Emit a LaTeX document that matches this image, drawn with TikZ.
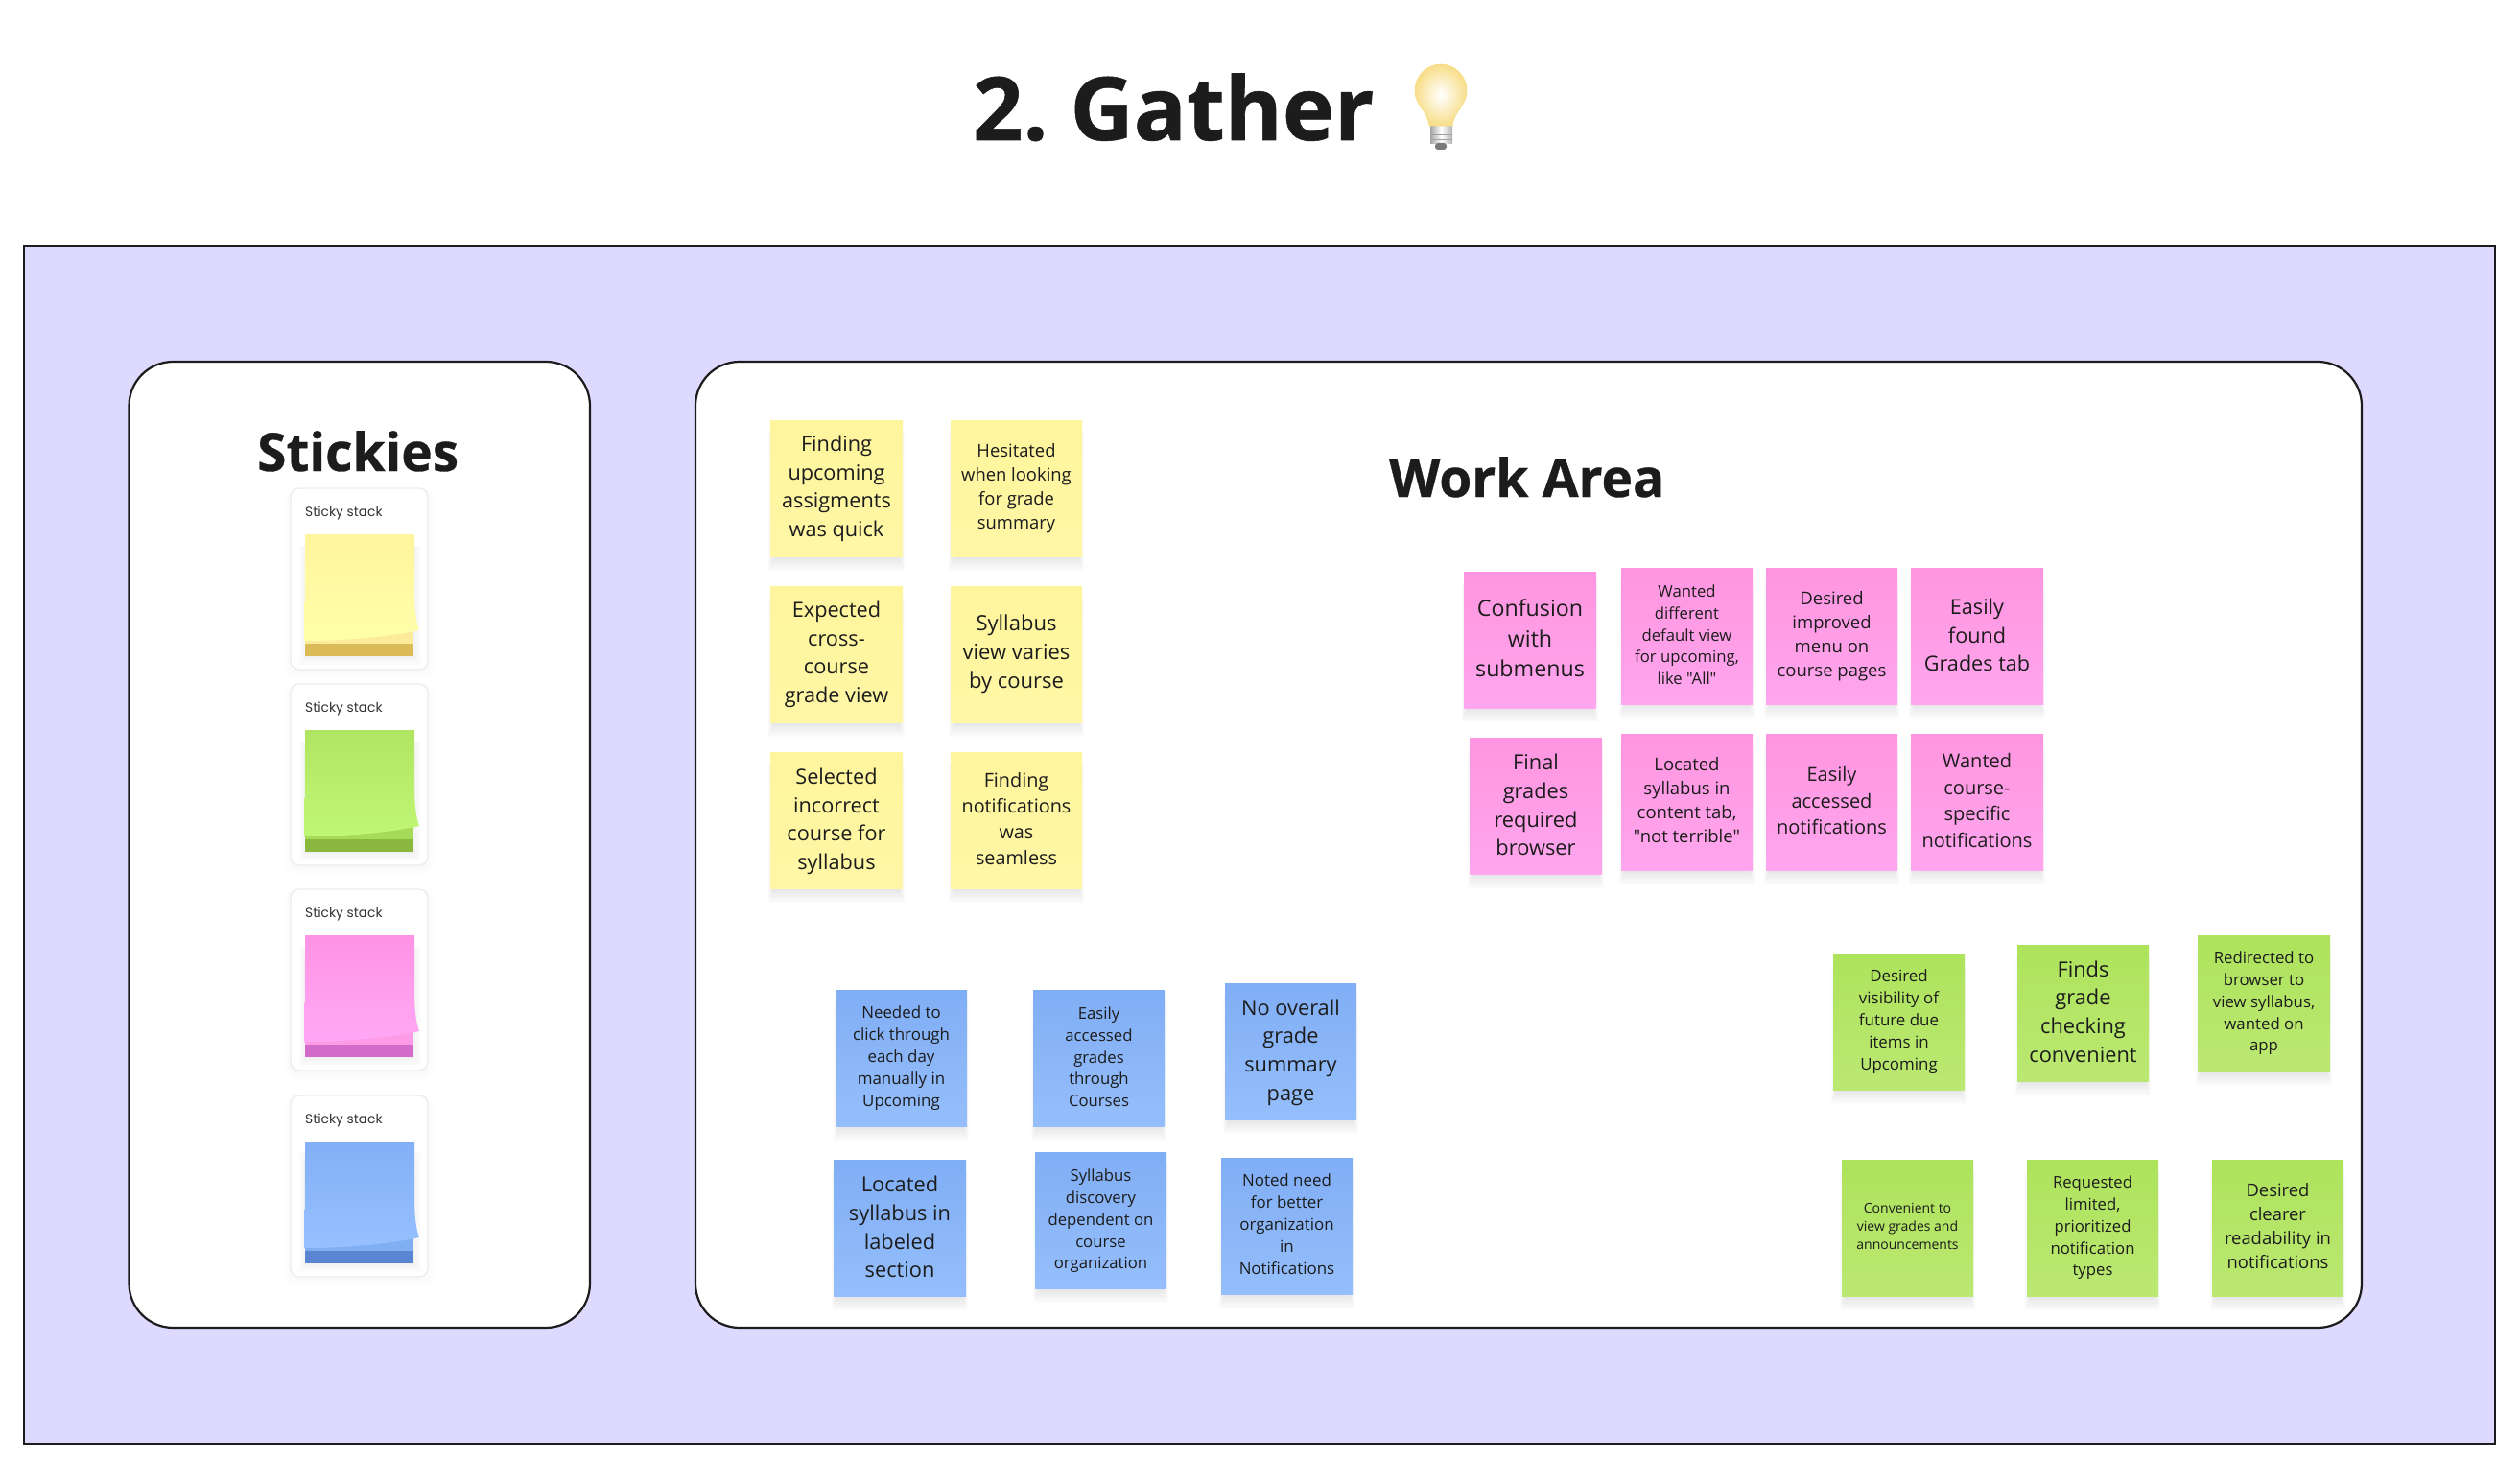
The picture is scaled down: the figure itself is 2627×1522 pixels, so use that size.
\documentclass[tikz,border=0pt]{standalone}
\usepackage{fontspec}
\setmainfont[Ligatures=TeXOff]{Open Sans}
\newfontfamily\stackfont{Poppins}
\newfontfamily\heavyfont[BoldFeatures={FakeBold=0.6}]{Open Sans}
\definecolor{ink}{HTML}{1C1C1C}
\definecolor{framefill}{HTML}{DED9FF}
\definecolor{cardline}{HTML}{EDEDF1}
\definecolor{yTop}{HTML}{FFF59D}\definecolor{yBot}{HTML}{FFF7A6}
\definecolor{gTop}{HTML}{AEE35C}\definecolor{gBot}{HTML}{BBE872}
\definecolor{pTop}{HTML}{FF95E0}\definecolor{pBot}{HTML}{FFA6EE}
\definecolor{bTop}{HTML}{80AEF5}\definecolor{bBot}{HTML}{95BEFB}
\definecolor{ysTop}{HTML}{FFF59C}\definecolor{ysBot}{HTML}{FFFFAA}\definecolor{ysUnd}{HTML}{FBEB9A}\definecolor{ysBand}{HTML}{DBBB55}
\definecolor{gsTop}{HTML}{B0E562}\definecolor{gsBot}{HTML}{C0F775}\definecolor{gsUnd}{HTML}{A6DB5A}\definecolor{gsBand}{HTML}{8AB83F}
\definecolor{psTop}{HTML}{FF93E3}\definecolor{psBot}{HTML}{FFA8F5}\definecolor{psUnd}{HTML}{FD9BE6}\definecolor{psBand}{HTML}{D36BCB}
\definecolor{bsTop}{HTML}{82AFF6}\definecolor{bsBot}{HTML}{96C0FF}\definecolor{bsUnd}{HTML}{80AEF2}\definecolor{bsBand}{HTML}{5A85D2}
\definecolor{glow}{HTML}{F8DE8A}
\tikzset{
  x=1pt,y=-1pt,
  notedy/.store in=\notedy, notedy=0,
  framebox/.style={draw=ink,line width=2.2pt,fill=framefill},
  panelbox/.style={draw=ink,line width=2.2pt,fill=white,rounded corners=46pt},
  cardbox/.style={draw=cardline,line width=1.4pt,fill=white,rounded corners=9pt},
  stickybox/.style={rectangle,inner sep=0pt,align=center,text=ink},
  yellownote/.style={top color=yTop,bottom color=yBot},
  greennote/.style={top color=gTop,bottom color=gBot},
  pinknote/.style={top color=pTop,bottom color=pBot},
  bluenote/.style={top color=bTop,bottom color=bBot},
  headtext/.style={inner sep=0pt,anchor=base west,text=ink,font=\heavyfont\fontsize{55}{60}\selectfont\bfseries},
  stacklabel/.style={inner sep=0pt,anchor=base west,text=ink!90,font=\stackfont\fontsize{13.8}{16}\selectfont},
}
% name, x0, y0, x1, y1, fill style, size, leading, text
\newcommand{\stickynote}[9]{%
  \foreach \s in {0,2,4,6,8,10}{%
    \fill[black,opacity=.016] ({#2-\s/2+3},{#3+12}) rectangle ({#4+\s/2-3},{#5+3+\s*1.2});
  }%
  \begin{scope}[#6]
  \node[stickybox,#6,minimum width={(#4-#2)*1pt},minimum height={(#5-#3)*1pt},
    label={[inner sep=0pt,align=center,text=ink,font=\fontsize{#7}{#8}\selectfont,yshift={-(\notedy)*1pt}]center:{#9}}] (#1) at ({(#2+#4)/2},{(#3+#5)/2}) {};
  \end{scope}
}
% name, card top, card bottom, top colour, bottom colour, underpage, band
\newcommand{\stackcard}[7]{%
  \foreach \s in {0,3,6}{\fill[black,opacity=.006,rounded corners=9pt] ({303-\s},{#2}) rectangle ({446+\s},{#3+3+\s});}%
  \draw[cardbox] (303,#2) rectangle (446,#3);
  \node[stacklabel] (#1) at (318,{#2+29}) {Sticky stack};
  \begin{scope}[yshift={-(#2)*1pt}]
    \foreach \s in {0,2,4,6,8}{\fill[black,opacity=.012] ({320-\s},{60}) rectangle ({431+\s},{176+\s});}
    \fill[#7] (318,162) rectangle (431,175);
    \fill[#6] (318,140) rectangle (431,162);
    \shade[top color=#4,bottom color=#5]
      (318,48) -- (432,48) -- (432,105) .. controls (432,128) and (434,140) .. (437,148)
      .. controls (405,155) and (360,159) .. (317,159)
      .. controls (318,120) and (318,90) .. (318,48) -- cycle;
  \end{scope}
}
\begin{document}
\begin{tikzpicture}
\useasboundingbox (0,0) rectangle (2627,1522);
\fill[white] (0,0) rectangle (2627,1522);

% title
\node[inner sep=0pt,anchor=base west,text=ink,font=\heavyfont\fontsize{91.5}{100}\selectfont\bfseries] (title) at (1014,146) {2.\hspace{23pt}Gather};
% bulb
\shade[left color=gray!70,right color=gray!60,middle color=white] (1491,130) rectangle (1514,150);
\foreach \yy in {136,141,146}{\draw[gray!75,line width=1pt] (1491,\yy) -- (1514,\yy);}
\fill[gray!95!black,rounded corners=3pt] (1496,149) rectangle (1508,156);
\draw[glow,line width=.6pt,inner color=white,outer color=glow]
  (1490,131) .. controls (1488,115) and (1475,110) .. (1475,95)
  .. controls (1475,78) and (1488,67) .. (1502,67)
  .. controls (1516,67) and (1529,78) .. (1529,95)
  .. controls (1529,110) and (1516,115) .. (1514,131) -- cycle;

% frame and panels
\draw[framebox] (25,256) rectangle (2601,1505);
\draw[panelbox] (134.5,377) rectangle (615,1384);
\draw[panelbox] (725,377) rectangle (2462,1384);
\node[headtext] (stickieshead) at (268,491) {Stickies};
\node[headtext] (workhead) at (1448,518) {Work Area};

% stacks
\stackcard{stackA}{509}{698}{ysTop}{ysBot}{ysUnd}{ysBand}
\stackcard{stackB}{713}{902}{gsTop}{gsBot}{gsUnd}{gsBand}
\stackcard{stackC}{927}{1116}{psTop}{psBot}{psUnd}{psBand}
\stackcard{stackD}{1142}{1331}{bsTop}{bsBot}{bsUnd}{bsBand}

% yellow
\stickynote{y1}{803}{438}{941}{580}{yellownote,notedy=0.5}{21.7}{29.5}{Finding\\upcoming\\assigments\\was quick}
\stickynote{y2}{991}{438}{1128}{580}{yellownote}{18.4}{25}{Hesitated\\when looking\\for grade\\summary}
\stickynote{y3}{803}{611}{941}{753}{yellownote,notedy=0.5}{21.7}{29.5}{Expected\\cross-\\course\\grade view}
\stickynote{y4}{991}{611}{1128}{753}{yellownote}{22}{30}{Syllabus\\view varies\\by course}
\stickynote{y5}{803}{784}{941}{926}{yellownote,notedy=1.5}{21.7}{29.5}{Selected\\incorrect\\course for\\syllabus}
\stickynote{y6}{991}{784}{1128}{926}{yellownote,notedy=-1.5}{19.8}{27}{Finding\\notifications\\was\\seamless}

% pink
\stickynote{p1}{1526}{596}{1664}{738}{pinknote,notedy=-1.7}{23.2}{31.5}{Confusion\\with\\submenus}
\stickynote{p2}{1690}{592}{1827}{734}{pinknote,notedy=-1}{16.7}{22.7}{Wanted\\different\\default view\\for upcoming,\\like "All"}
\stickynote{p3}{1841}{592}{1978}{734}{pinknote}{18.5}{25}{Desired\\improved\\menu on\\course pages}
\stickynote{p4}{1992}{592}{2130}{734}{pinknote,notedy=-1}{21.6}{29.3}{Easily\\found\\Grades tab}
\stickynote{p5}{1532}{769}{1670}{911}{pinknote,notedy=-1}{21.8}{29.7}{Final\\grades\\required\\browser}
\stickynote{p6}{1690}{765}{1827}{907}{pinknote,notedy=-1.5}{18.5}{25}{Located\\syllabus in\\content tab,\\"not terrible"}
\stickynote{p7}{1841}{765}{1978}{907}{pinknote,notedy=-1.5}{20}{27.3}{Easily\\accessed\\notifications}
\stickynote{p8}{1992}{765}{2130}{907}{pinknote,notedy=-1.5}{20}{27.5}{Wanted\\course-\\specific\\notifications}

% blue
\stickynote{b1}{871}{1032}{1008}{1174}{bluenote}{16.9}{23}{Needed to\\click through\\each day\\manually in\\Upcoming}
\stickynote{b2}{1077}{1032}{1214}{1174}{bluenote,notedy=-1}{16.7}{22.7}{Easily\\accessed\\grades\\through\\Courses}
\stickynote{b3}{1277}{1025}{1414}{1167}{bluenote,notedy=1}{21.8}{29.7}{No overall\\grade\\summary\\page}
\stickynote{b4}{869}{1209}{1007}{1351}{bluenote,notedy=-1}{21.8}{29.7}{Located\\syllabus in\\labeled\\section}
\stickynote{b5}{1079}{1201}{1216}{1343}{bluenote,notedy=1}{16.7}{22.7}{Syllabus\\discovery\\dependent on\\course\\organization}
\stickynote{b6}{1273}{1207}{1410}{1349}{bluenote,notedy=-1.5}{16.9}{23}{Noted need\\for better\\organization\\in\\Notifications}

% green
\stickynote{g1}{1911}{994}{2048}{1136}{greennote}{16.9}{23}{Desired\\visibility of\\future due\\items in\\Upcoming}
\stickynote{g2}{2103}{985}{2240}{1127}{greennote,notedy=-1.5}{21.8}{29.7}{Finds\\grade\\checking\\convenient}
\stickynote{g3}{2291}{975}{2429}{1117}{greennote}{16.8}{22.8}{Redirected to\\browser to\\view syllabus,\\wanted on\\app}
\stickynote{g4}{1920}{1209}{2057}{1351}{greennote,notedy=-1.5}{14}{19}{Convenient to\\view grades and\\announcements}
\stickynote{g5}{2113}{1209}{2250}{1351}{greennote}{16.7}{22.7}{Requested\\limited,\\prioritized\\notification\\types}
\stickynote{g6}{2306}{1209}{2443}{1351}{greennote,notedy=-1.5}{18.4}{25}{Desired\\clearer\\readability in\\notifications}
\end{tikzpicture}
\end{document}
